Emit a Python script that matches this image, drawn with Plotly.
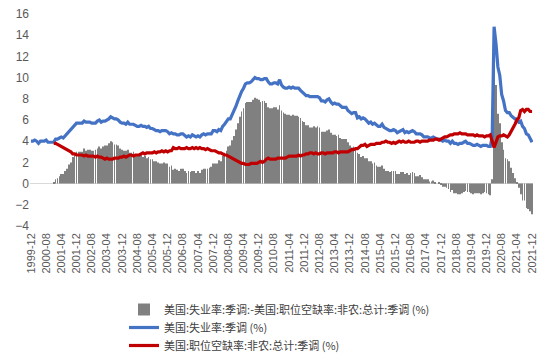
import plotly.graph_objects as go

# Monthly dates 1999-12 .. 2021-12
dates = ["1999-12"] + [f"{y}-{m:02d}" for y in range(2000, 2022) for m in range(1, 13)]

# 美国:失业率:季调 (%), 1999-12 .. 2021-12
unemp = [
    4.0,
    4.0, 4.1, 4.0, 3.8, 4.0, 4.0, 4.0, 4.1, 3.9, 3.9, 3.9, 3.9,
    4.2, 4.2, 4.3, 4.4, 4.3, 4.5, 4.6, 4.9, 5.0, 5.3, 5.5, 5.7,
    5.7, 5.7, 5.7, 5.9, 5.8, 5.8, 5.8, 5.7, 5.7, 5.7, 5.9, 6.0,
    5.8, 5.9, 5.9, 6.0, 6.1, 6.3, 6.2, 6.1, 6.1, 6.0, 5.8, 5.7,
    5.7, 5.6, 5.8, 5.6, 5.6, 5.6, 5.5, 5.4, 5.4, 5.5, 5.4, 5.4,
    5.3, 5.4, 5.2, 5.2, 5.1, 5.0, 5.0, 4.9, 5.0, 5.0, 5.0, 4.9,
    4.7, 4.8, 4.7, 4.7, 4.6, 4.6, 4.7, 4.7, 4.5, 4.4, 4.5, 4.4,
    4.6, 4.5, 4.4, 4.5, 4.4, 4.6, 4.7, 4.6, 4.7, 4.7, 4.7, 5.0,
    5.0, 4.9, 5.1, 5.0, 5.4, 5.6, 5.8, 6.1, 6.1, 6.5, 6.8, 7.3,
    7.8, 8.3, 8.7, 9.0, 9.4, 9.5, 9.5, 9.6, 9.8, 10.0, 9.9, 9.9,
    9.8, 9.8, 9.9, 9.9, 9.6, 9.4, 9.4, 9.5, 9.5, 9.4, 9.8, 9.3,
    9.1, 9.0, 9.0, 9.1, 9.0, 9.1, 9.0, 9.0, 9.0, 8.8, 8.6, 8.5,
    8.3, 8.3, 8.2, 8.2, 8.2, 8.2, 8.2, 8.1, 7.8, 7.8, 7.7, 7.9,
    8.0, 7.7, 7.5, 7.6, 7.5, 7.5, 7.3, 7.2, 7.2, 7.2, 6.9, 6.7,
    6.6, 6.7, 6.7, 6.2, 6.3, 6.1, 6.2, 6.1, 5.9, 5.7, 5.8, 5.6,
    5.7, 5.5, 5.4, 5.4, 5.6, 5.3, 5.2, 5.1, 5.0, 5.0, 5.1, 5.0,
    4.8, 4.9, 5.0, 5.1, 4.8, 4.9, 4.8, 4.9, 5.0, 4.9, 4.7, 4.7,
    4.7, 4.6, 4.4, 4.4, 4.4, 4.3, 4.3, 4.4, 4.3, 4.2, 4.2, 4.1,
    4.0, 4.1, 4.0, 4.0, 3.8, 4.0, 3.8, 3.8, 3.7, 3.8, 3.8, 3.9,
    4.0, 3.8, 3.8, 3.7, 3.6, 3.6, 3.7, 3.6, 3.5, 3.6, 3.6, 3.6,
    3.5, 3.5, 4.4, 14.8, 13.2, 11.0, 10.2, 8.4, 7.8, 6.9, 6.7, 6.7,
    6.4, 6.2, 6.1, 6.1, 5.8, 5.9, 5.4, 5.2, 4.7, 4.6, 4.2, 3.9,
]

# 美国:职位空缺率:非农:总计:季调 (%), 2000-12 .. 2021-12
vac_dates = dates[12:]
vacancy = [
    3.8,
    3.8, 3.7, 3.6, 3.5, 3.4, 3.3, 3.2, 3.1, 3.0, 2.8, 2.8, 2.7,
    2.7, 2.7, 2.7, 2.6, 2.7, 2.6, 2.6, 2.6, 2.6, 2.5, 2.6, 2.5,
    2.5, 2.4, 2.3, 2.4, 2.3, 2.3, 2.3, 2.4, 2.4, 2.4, 2.5, 2.5,
    2.6, 2.5, 2.6, 2.7, 2.7, 2.6, 2.7, 2.7, 2.7, 2.8, 2.9, 2.8,
    2.9, 2.9, 2.9, 2.9, 3.0, 2.9, 3.0, 3.0, 3.1, 3.0, 3.1, 3.0,
    3.1, 3.1, 3.4, 3.3, 3.3, 3.4, 3.3, 3.3, 3.3, 3.4, 3.3, 3.3,
    3.4, 3.3, 3.4, 3.3, 3.4, 3.3, 3.3, 3.2, 3.3, 3.2, 3.1, 3.1,
    3.1, 3.0, 2.9, 2.9, 2.8, 2.7, 2.7, 2.6, 2.5, 2.4, 2.3, 2.2,
    2.1, 2.0, 1.9, 1.9, 1.8, 1.8, 1.8, 1.9, 1.9, 1.9, 1.9, 2.0,
    2.1, 2.0, 2.1, 2.3, 2.4, 2.3, 2.3, 2.3, 2.3, 2.4, 2.4, 2.4,
    2.4, 2.4, 2.5, 2.6, 2.6, 2.6, 2.6, 2.6, 2.7, 2.6, 2.7, 2.7,
    2.8, 2.8, 2.9, 2.9, 2.8, 2.9, 2.8, 2.8, 2.9, 2.9, 2.8, 2.9,
    2.9, 2.9, 2.9, 3.0, 3.0, 2.9, 3.0, 3.0, 3.0, 3.0, 3.0, 3.1,
    3.2, 3.2, 3.3, 3.3, 3.5, 3.6, 3.6, 3.7, 3.5, 3.6, 3.7, 3.7,
    3.7, 3.8, 3.8, 3.8, 3.9, 3.9, 4.0, 3.9, 3.9, 3.8, 3.9, 3.8,
    3.9, 4.0, 3.9, 4.0, 3.9, 3.9, 4.0, 3.9, 3.9, 3.9, 4.0, 4.0,
    3.9, 4.0, 4.0, 4.0, 4.0, 4.1, 4.1, 4.1, 4.2, 4.2, 4.1, 4.2,
    4.3, 4.4, 4.4, 4.5, 4.6, 4.6, 4.7, 4.7, 4.7, 4.8, 4.7, 4.7,
    4.7, 4.6, 4.6, 4.6, 4.6, 4.5, 4.6, 4.5, 4.5, 4.5, 4.4, 4.5,
    4.5, 4.6, 4.0, 3.4, 3.9, 4.4, 4.5, 4.5, 4.6, 4.5, 4.4, 4.6,
    4.9, 5.2, 5.6, 6.0, 6.2, 6.9, 7.0, 6.8, 7.0, 7.0, 6.8, 6.8,
]

# 美国:失业率:季调:-美国:职位空缺率:非农:总计:季调 (%), 2000-12 .. 2021-12
spread = [
    0.1,
    0.4, 0.5, 0.7, 0.9, 0.9, 1.2, 1.4, 1.8, 2.0, 2.5, 2.7, 3.0,
    3.0, 3.0, 3.0, 3.3, 3.1, 3.2, 3.2, 3.1, 3.1, 3.2, 3.3, 3.5,
    3.3, 3.5, 3.6, 3.6, 3.8, 4.0, 3.9, 3.7, 3.7, 3.6, 3.3, 3.2,
    3.1, 3.1, 3.2, 2.9, 2.9, 3.0, 2.8, 2.7, 2.7, 2.7, 2.5, 2.6,
    2.4, 2.5, 2.3, 2.3, 2.1, 2.1, 2.0, 1.9, 1.9, 2.0, 1.9, 1.9,
    1.6, 1.7, 1.3, 1.4, 1.3, 1.2, 1.4, 1.4, 1.2, 1.0, 1.2, 1.1,
    1.2, 1.2, 1.0, 1.2, 1.0, 1.3, 1.4, 1.4, 1.4, 1.5, 1.6, 1.9,
    1.9, 1.9, 2.2, 2.1, 2.6, 2.9, 3.1, 3.5, 3.6, 4.1, 4.5, 5.1,
    5.7, 6.3, 6.8, 7.1, 7.6, 7.7, 7.7, 7.7, 7.9, 8.1, 8.0, 7.9,
    7.7, 7.8, 7.8, 7.6, 7.2, 7.1, 7.1, 7.2, 7.2, 7.0, 7.4, 6.9,
    6.7, 6.6, 6.5, 6.5, 6.4, 6.5, 6.4, 6.4, 6.3, 6.2, 5.9, 5.8,
    5.5, 5.5, 5.3, 5.3, 5.4, 5.3, 5.4, 5.3, 4.9, 4.9, 4.9, 5.0,
    5.1, 4.8, 4.6, 4.6, 4.5, 4.6, 4.3, 4.2, 4.2, 4.2, 3.9, 3.6,
    3.4, 3.5, 3.4, 2.9, 2.8, 2.5, 2.6, 2.4, 2.4, 2.1, 2.1, 1.9,
    2.0, 1.7, 1.6, 1.6, 1.7, 1.4, 1.2, 1.2, 1.1, 1.2, 1.2, 1.2,
    0.9, 0.9, 1.1, 1.1, 0.9, 1.0, 0.8, 1.0, 1.1, 1.0, 0.7, 0.7,
    0.8, 0.6, 0.4, 0.4, 0.4, 0.2, 0.2, 0.3, 0.1, 0.0, 0.1, -0.1,
    -0.3, -0.3, -0.4, -0.5, -0.8, -0.6, -0.9, -0.9, -1.0, -1.0, -0.9, -0.8,
    -0.7, -0.8, -0.8, -0.9, -1.0, -0.9, -0.9, -0.9, -1.0, -0.9, -0.8, -0.9,
    -1.0, -1.1, 0.4, 11.4, 9.3, 6.6, 5.7, 3.9, 3.2, 2.4, 2.3, 2.1,
    1.5, 1.0, 0.5, 0.1, -0.4, -1.0, -1.6, -1.6, -2.3, -2.4, -2.6, -2.9,
]

tick_labels = dates[::8]

name_bar = "美国:失业率:季调:-美国:职位空缺率:非农:总计:季调 (%)"
name_u = "美国:失业率:季调 (%)"
name_v = "美国:职位空缺率:非农:总计:季调 (%)"

fig = go.Figure()
fig.add_trace(go.Bar(x=vac_dates, y=spread, name=name_bar, legend="legend",
                     marker=dict(color="#808080", line=dict(width=0))))
fig.add_trace(go.Scatter(x=dates, y=unemp, name=name_u, mode="lines", legend="legend2",
                         line=dict(color="#4472C4", width=3.2)))
fig.add_trace(go.Scatter(x=vac_dates, y=vacancy, name=name_v, mode="lines", legend="legend3",
                         line=dict(color="#C00000", width=3.2)))

# page body adds an 8px offset, so the figure is sized 8px smaller
W, H = 546, 353
ML, MR, MT, MB = 22, 21, 6, 135
PW, PH = W - ML - MR, H - MT - MB

font_fam = "Liberation Sans, Arial, Noto Sans CJK SC, sans-serif"
leg_font = dict(family="Noto Sans CJK SC, sans-serif", size=11, color="#404040")


def leg(top_px):
    return dict(
        x=(116 - ML) / PW, y=(H - MB - top_px) / PH, xanchor="left", yanchor="top",
        bgcolor="rgba(0,0,0,0)", font=leg_font, itemwidth=30,
    )


fig.update_layout(
    width=W, height=H,
    margin=dict(l=ML, r=MR, t=MT, b=MB, autoexpand=False),
    paper_bgcolor="white", plot_bgcolor="white",
    bargap=0.62,
    showlegend=True,
    legend=leg(287),
    legend2=leg(305),
    legend3=leg(323),
    font=dict(family=font_fam, color="#595959"),
)
fig.update_xaxes(
    type="category", categoryorder="array", categoryarray=dates,
    tickmode="array", tickvals=tick_labels, ticktext=tick_labels,
    tickangle=-90, tickfont=dict(size=11, color="#595959"),
    showgrid=False, showline=False, ticks="", range=[-0.5, len(dates) - 0.5],
    automargin=False, ticklabelstandoff=4,
)
fig.update_yaxes(
    range=[-4, 16], dtick=2, tick0=0, showgrid=False, showline=False,
    zeroline=True, zerolinecolor="#d9d9d9", zerolinewidth=1,
    tickfont=dict(size=12, color="#595959"), ticks="", automargin=False,
    ticklabeloverflow="allow",
)

fig.write_html("out.html")
